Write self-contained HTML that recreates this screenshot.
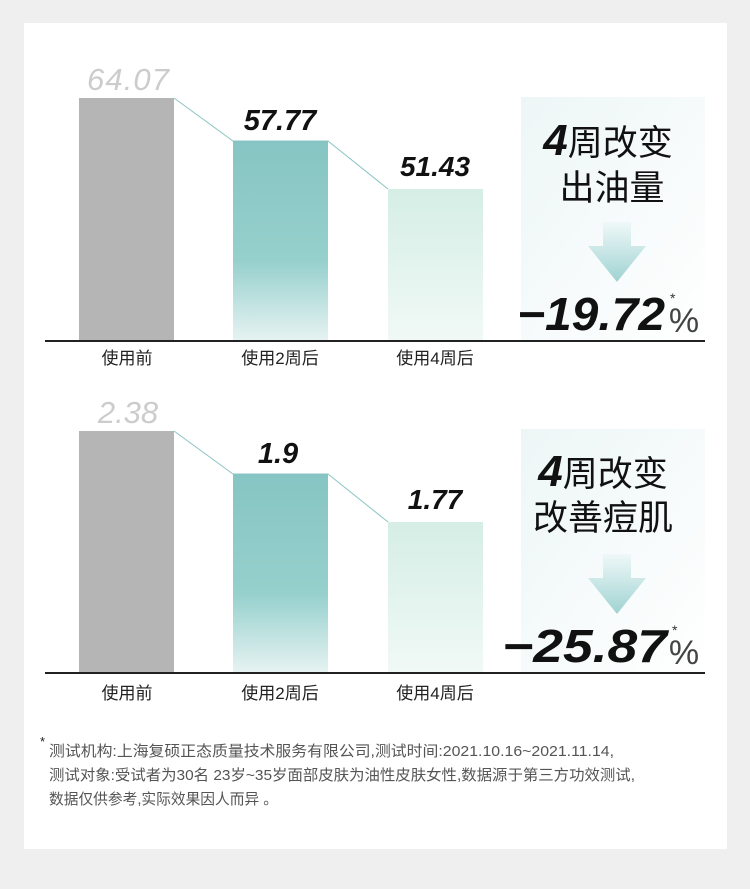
<!DOCTYPE html>
<html><head><meta charset="utf-8"><style>
body{margin:0;background:#efefef;}
svg{display:block}
</style></head><body>
<svg width="750" height="889" xmlns="http://www.w3.org/2000/svg" font-family="'Liberation Sans','Noto Sans CJK SC',sans-serif">
<defs>
<linearGradient id="teal" x1="0" y1="0" x2="0" y2="1"><stop offset="0" stop-color="#86c5c3"/><stop offset="0.6" stop-color="#96d0cd"/><stop offset="1" stop-color="#e6f3f2"/></linearGradient>
<linearGradient id="light" x1="0" y1="0" x2="0" y2="1"><stop offset="0" stop-color="#d5eee6"/><stop offset="1" stop-color="#f1f9f6"/></linearGradient>
<linearGradient id="panel" x1="0" y1="0" x2="1" y2="1"><stop offset="0" stop-color="#edf6f6"/><stop offset="1" stop-color="#ffffff"/></linearGradient>
<linearGradient id="arr" x1="0" y1="0" x2="0" y2="1"><stop offset="0" stop-color="#f0f8f8"/><stop offset="1" stop-color="#9fd3d2"/></linearGradient>
</defs>
<rect x="24" y="23" width="703" height="826" fill="#fff"/>
<g id="c1">
<rect x="521" y="97" width="184" height="244" fill="url(#panel)"/>
<polyline points="174,98 233,141 328,141 388,189" fill="none" stroke="#8cc4c2" stroke-width="1"/>
<rect x="79" y="98" width="95" height="243" fill="#b5b5b5"/>
<rect x="233" y="141" width="95" height="200" fill="url(#teal)"/>
<rect x="388" y="189" width="95" height="152" fill="url(#light)"/>
<line x1="45" y1="341" x2="705" y2="341" stroke="#222" stroke-width="2"/>
<text x="128" y="90" font-size="31" fill="#ccc" text-anchor="middle" font-style="italic" textLength="82">64.07</text>
<text x="280" y="130" font-size="29" font-weight="bold" fill="#111" text-anchor="middle" font-style="italic">57.77</text>
<text x="435" y="176" font-size="28" font-weight="bold" fill="#111" text-anchor="middle" font-style="italic">51.43</text>
<g font-size="17" fill="#222" text-anchor="middle"><text x="127" y="364">使用前</text><text x="280" y="364">使用2周后</text><text x="435" y="364">使用4周后</text></g>
<text x="608" y="155" font-size="35" fill="#111" text-anchor="middle"><tspan font-size="44" font-weight="bold" font-style="italic">4</tspan>周改变</text>
<text x="612" y="200" font-size="35" fill="#111" text-anchor="middle">出油量</text>
<path d="M603 222 H631 V246 H646 L617 282 L588 246 H603 Z" fill="url(#arr)"/>
<text x="517" y="330" font-size="46" font-weight="bold" fill="#111" font-style="italic" textLength="148" lengthAdjust="spacingAndGlyphs">−19.72</text>
<text x="684" y="332" font-size="34" fill="#444" text-anchor="middle">%</text>
<text x="670" y="303" font-size="14" fill="#333">*</text>
</g>
<g transform="translate(0,332)">
<rect x="521" y="97" width="184" height="244" fill="url(#panel)"/>
<polyline points="174,99 233,142 328,142 388,190" fill="none" stroke="#8cc4c2" stroke-width="1"/>
<rect x="79" y="99" width="95" height="242" fill="#b5b5b5"/>
<rect x="233" y="142" width="95" height="199" fill="url(#teal)"/>
<rect x="388" y="190" width="95" height="151" fill="url(#light)"/>
<line x1="45" y1="341" x2="705" y2="341" stroke="#222" stroke-width="2"/>
<text x="128" y="91" font-size="31" fill="#ccc" text-anchor="middle" font-style="italic">2.38</text>
<text x="278" y="131" font-size="29" font-weight="bold" fill="#111" text-anchor="middle" font-style="italic">1.9</text>
<text x="435" y="177" font-size="28" font-weight="bold" fill="#111" text-anchor="middle" font-style="italic">1.77</text>
<g font-size="17" fill="#222" text-anchor="middle"><text x="127" y="367">使用前</text><text x="280" y="367">使用2周后</text><text x="435" y="367">使用4周后</text></g>
<text x="603" y="154" font-size="35" fill="#111" text-anchor="middle"><tspan font-size="44" font-weight="bold" font-style="italic">4</tspan>周改变</text>
<text x="603" y="198" font-size="35" fill="#111" text-anchor="middle">改善痘肌</text>
<path d="M603 222 H631 V246 H646 L617 282 L588 246 H603 Z" fill="url(#arr)"/>
<text x="502" y="330" font-size="46" font-weight="bold" fill="#111" font-style="italic" textLength="165" lengthAdjust="spacingAndGlyphs">−25.87</text>
<text x="684" y="332" font-size="34" fill="#444" text-anchor="middle">%</text>
<text x="672" y="303" font-size="14" fill="#333">*</text>
</g>
<g font-size="15" fill="#555">
<text x="40" y="746" font-size="13" fill="#222">*</text>
<text x="49" y="756" textLength="565" lengthAdjust="spacingAndGlyphs">测试机构:上海复硕正态质量技术服务有限公司,测试时间:2021.10.16~2021.11.14,</text>
<text x="49" y="780" textLength="586" lengthAdjust="spacingAndGlyphs">测试对象:受试者为30名 23岁~35岁面部皮肤为油性皮肤女性,数据源于第三方功效测试,</text>
<text x="49" y="804" textLength="229" lengthAdjust="spacingAndGlyphs">数据仅供参考,实际效果因人而异 。</text>
</g>
</svg>
</body></html>
